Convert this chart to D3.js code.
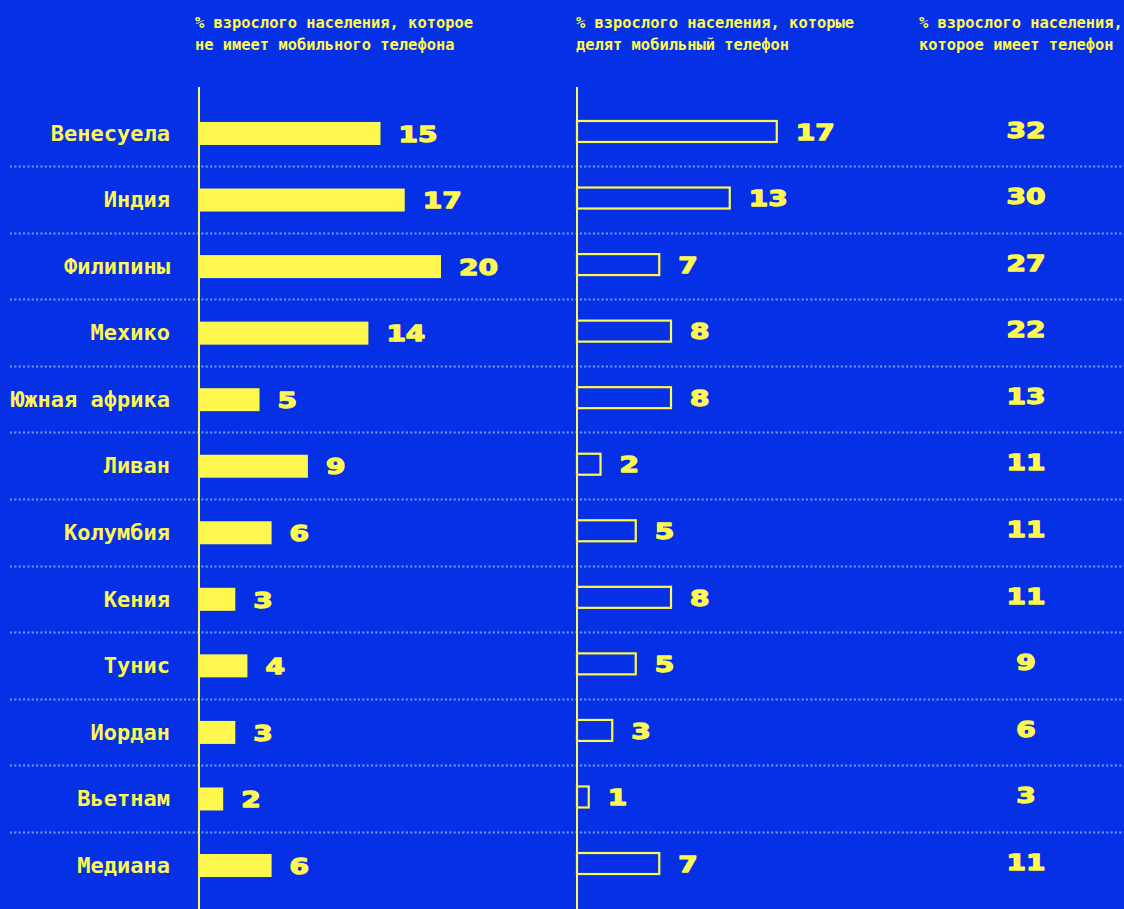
<!DOCTYPE html>
<html>
<head>
<meta charset="utf-8">
<script src="https://cdn.jsdelivr.net/npm/d3@7"></script>
<style>
  html, body { margin: 0; padding: 0; background: #0530E6; }
  svg { display: block; }
</style>
</head>
<body>
<svg id="chart" width="1124" height="909"></svg>
<script>
// Countries (rows, top to bottom)
const categories = ["Венесуела", "Индия", "Филипины", "Мехико", "Южная африка", "Ливан",
  "Колумбия", "Кения", "Тунис", "Иордан", "Вьетнам", "Медиана"];
// % of adults without a mobile phone
const noPhone = [15, 17, 20, 14, 5, 9, 6, 3, 4, 3, 2, 6];
// % of adults sharing a mobile phone
const sharePhone = [17, 13, 7, 8, 8, 2, 5, 8, 5, 3, 1, 7];
// % of adults owning a phone
const ownPhone = [32, 30, 27, 22, 13, 11, 11, 11, 9, 6, 3, 11];
// Column headings
const headers = [
  ["% взрослого населения, которое", "не имеет мобильного телефона"],
  ["% взрослого населения, которые", "делят мобильный телефон"],
  ["% взрослого населения,", "которое имеет телефон"]
];

const BG = "#0530E6", YEL = "#FFF94F", DOT = "#8197F4";
const MONO = "'DejaVu Sans Mono', 'Liberation Mono', monospace";
const NUM = "'DejaVu Sans', Verdana, sans-serif";

const svg = d3.select("#chart");

const y = d3.scaleBand().domain(categories).range([99.7, 898.3]).padding(0);
const x1 = d3.scaleLinear().domain([0, 20]).range([199, 441]);
const x2 = d3.scaleLinear().domain([0, 20]).range([577, 812]);
const x3 = 1026;

// Column headings
const headX = [195, 576, 919];
headers.forEach((lines, i) => {
  const t = svg.append("text")
    .attr("x", headX[i]).attr("y", 28)
    .attr("fill", YEL).attr("font-family", MONO)
    .attr("font-size", 15.4).attr("font-weight", "bold");
  lines.forEach((s, j) => t.append("tspan").attr("x", headX[i]).attr("dy", j ? 22 : 0).text(s));
});

// Dotted row separators
svg.append("g").selectAll("line")
  .data(categories.slice(1))
  .join("line")
  .attr("x1", 10).attr("x2", 1124)
  .attr("y1", d => Math.round(y(d)) + 0.5).attr("y2", d => Math.round(y(d)) + 0.5)
  .attr("stroke", DOT).attr("stroke-width", 2)
  .attr("stroke-dasharray", "2,2.35");

// Category labels
svg.append("g").selectAll("text")
  .data(categories)
  .join("text")
  .attr("x", 170).attr("y", d => y(d) + y.bandwidth() / 2)
  .attr("dy", "0.35em")
  .attr("text-anchor", "end")
  .attr("fill", YEL).attr("font-family", MONO)
  .attr("font-size", 22).attr("font-weight", "bold")
  .text(d => d);

// Axis lines
[x1(0), x2(0)].forEach(xx => {
  svg.append("line")
    .attr("x1", xx).attr("x2", xx).attr("y1", 87).attr("y2", 909)
    .attr("stroke", YEL).attr("stroke-width", 2);
});

const BH = 23;

// Solid bars: no phone
svg.append("g").selectAll("rect")
  .data(categories)
  .join("rect")
  .attr("x", x1(0))
  .attr("y", d => y(d) + y.bandwidth() / 2 - BH / 2 + 0.5)
  .attr("width", (d, i) => x1(noPhone[i]) - x1(0))
  .attr("height", BH)
  .attr("fill", YEL);

// Outlined bars: shared phone
svg.append("g").selectAll("rect")
  .data(categories)
  .join("rect")
  .attr("x", x2(0))
  .attr("y", d => y(d) + y.bandwidth() / 2 - BH / 2 - 0.5)
  .attr("width", (d, i) => x2(sharePhone[i]) - x2(0))
  .attr("height", BH - 2)
  .attr("fill", "none")
  .attr("stroke", YEL).attr("stroke-width", 2.2);

// Wide heavy number label
function numLabel(g, x, yy, txt, anchor) {
  g.append("g")
    .attr("transform", `translate(${x},${yy}) scale(1.3,1)`)
    .append("text")
    .attr("text-anchor", anchor)
    .attr("dy", "0.36em")
    .attr("fill", YEL).attr("font-family", NUM)
    .attr("stroke", YEL).attr("stroke-width", 1.3).attr("stroke-linejoin", "round")
    .attr("font-size", 21.5).attr("font-weight", "bold")
    .text(txt);
}

const labels = svg.append("g");
categories.forEach((c, i) => {
  const cy = y(c) + y.bandwidth() / 2;
  numLabel(labels, x1(noPhone[i]) + 18, cy + 1, noPhone[i], "start");
  numLabel(labels, x2(sharePhone[i]) + 19, cy - 1, sharePhone[i], "start");
  numLabel(labels, x3, cy - 3, ownPhone[i], "middle");
});
</script>
</body>
</html>
